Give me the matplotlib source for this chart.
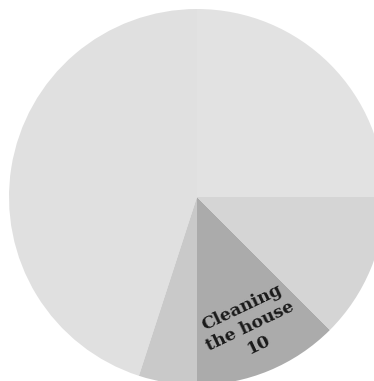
import numpy as np
import matplotlib
matplotlib.use("Agg")
import matplotlib.pyplot as plt

# slices listed counterclockwise starting at 3 o'clock
categories = ["Work", "Sleep", "Commute", "Cleaning the house", "Cooking"]
values = [20, 36, 4, 10, 10]
colors = ["#e2e2e2", "#e0e0e0", "#c9c9c9", "#ababab", "#d5d5d5"]
show_label = [False, False, False, True, False]

fig = plt.figure(figsize=(3.74, 3.81), dpi=100)
ax = fig.add_axes([0, 0, 1, 1])

cx, cy, r = 197, 381 - 197, 188
wedges, _ = ax.pie(values, colors=colors, startangle=0, counterclock=True,
                   center=(cx, cy), radius=r, frame=True,
                   wedgeprops=dict(linewidth=0))
ax.set_xlim(0, 374)
ax.set_ylim(0, 381)
ax.set_aspect("equal")
ax.axis("off")

for w, name, val, show in zip(wedges, categories, values, show_label):
    if not show:
        continue
    mid = np.deg2rad((w.theta1 + w.theta2) / 2)
    x = cx + 0.745 * r * np.cos(mid)
    y = cy + 0.745 * r * np.sin(mid)
    rot = np.rad2deg(mid) + 90 - 360 + 3
    txt = name.replace(" the ", "\nthe ") + "\n" + str(val)
    ax.text(x, y, txt, ha="center", va="center", rotation=rot,
            rotation_mode="anchor", fontsize=12.5, fontweight="bold",
            family="DejaVu Serif", color="#1a1a1a", linespacing=1.25)

fig.savefig("out.png", dpi=100)
